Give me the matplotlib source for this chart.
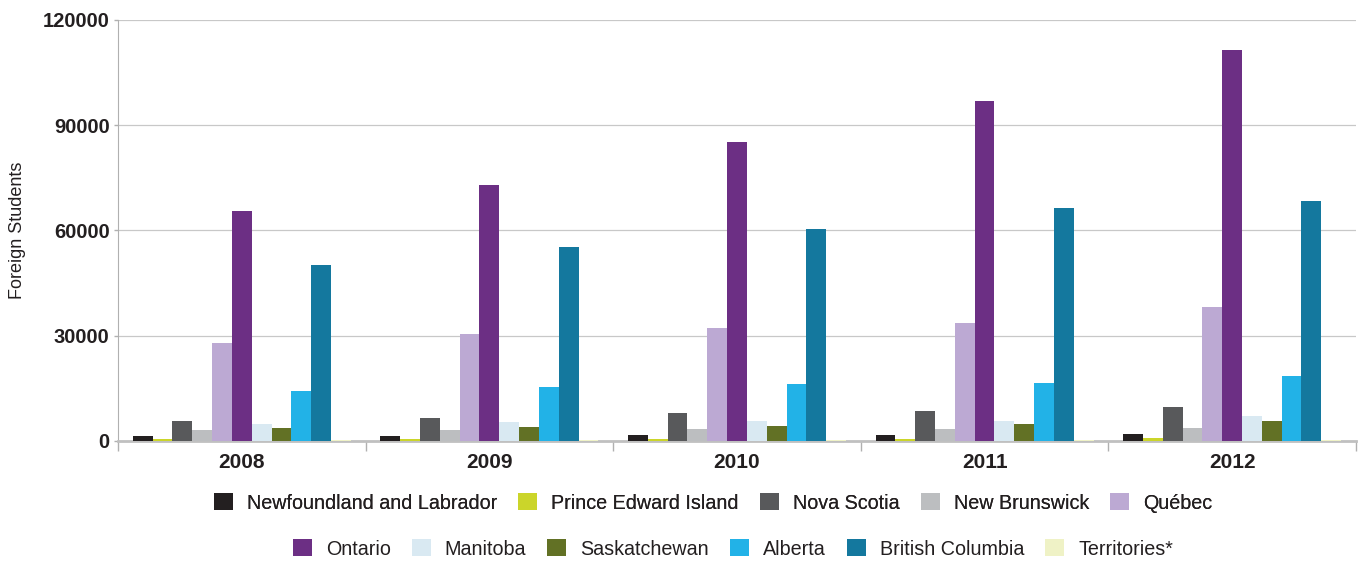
import matplotlib
matplotlib.use("Agg")
import matplotlib.pyplot as plt
import numpy as np
from matplotlib.patches import Patch

plt.rcParams['font.family'] = ['Liberation Sans', 'DejaVu Sans']

years = ["2008", "2009", "2010", "2011", "2012"]
provinces = ["Newfoundland and Labrador", "Prince Edward Island", "Nova Scotia",
             "New Brunswick", "Québec", "Ontario", "Manitoba", "Saskatchewan",
             "Alberta", "British Columbia", "Territories*"]

newfoundland = [1400, 1400, 1700, 1700, 2000]
pei = [600, 600, 600, 600, 900]
nova_scotia = [5700, 6600, 8000, 8600, 9800]
new_brunswick = [3100, 3150, 3400, 3400, 3700]
quebec = [28000, 30500, 32200, 33600, 38200]
ontario = [65600, 73000, 85200, 96900, 111400]
manitoba = [4850, 5400, 5700, 5700, 7100]
saskatchewan = [3700, 4000, 4300, 4850, 5700]
alberta = [14300, 15500, 16250, 16550, 18500]
british_columbia = [50200, 55300, 60400, 66400, 68400]
territories = [150, 150, 150, 150, 200]

series = [newfoundland, pei, nova_scotia, new_brunswick, quebec, ontario,
          manitoba, saskatchewan, alberta, british_columbia, territories]
colors = ["#231f20", "#cbd52a", "#58595b", "#bcbec0", "#bca9d3", "#6c2f84",
          "#d9e9f2", "#627125", "#22b2e7", "#14789e", "#eff2c6"]

fig = plt.figure(figsize=(13.61, 5.63), dpi=100)
ax = fig.add_axes([0.0867, 0.2167, 0.9096, 0.7478])

n = len(series)
w = 0.08
x = np.arange(len(years))
for i, (vals, c) in enumerate(zip(series, colors)):
    offs = (i - (n - 1) / 2) * w
    ax.bar(x + offs, vals, width=w, color=c, zorder=3, linewidth=0)

ax.set_xlim(-0.5, len(years) - 0.5)
ax.set_ylim(0, 120000)
ax.set_yticks([0, 30000, 60000, 90000, 120000])
ax.set_yticklabels(["0", "30000", "60000", "90000", "120000"],
                   fontsize=14.5, fontweight='bold', color="#231f20")
ax.yaxis.grid(True, color="#c8c8c8", linewidth=0.9, zorder=0)
ax.set_axisbelow(True)

ax.set_xticks(np.arange(-0.5, len(years)), minor=False)
ax.set_xticklabels([])
ax.set_xticks(x, minor=True)
ax.set_xticklabels(years, minor=True, fontsize=15, fontweight='bold', color="#231f20")
ax.tick_params(axis='x', which='major', length=7, color="#b0b0b0", width=1)
ax.tick_params(axis='x', which='minor', length=0, pad=9)
ax.tick_params(axis='y', length=3, color="#b0b0b0", width=1, pad=3)

for s in ["top", "right"]:
    ax.spines[s].set_visible(False)
ax.spines["left"].set_color("#b0b0b0")
ax.spines["bottom"].set_color("#c0c0c0")
ax.spines["bottom"].set_linewidth(2)

fig.text(18 / 1361, 1 - 230 / 563, "Foreign Students", rotation=90,
         ha='center', va='center', fontsize=13, color="#231f20")

handles = [Patch(facecolor=c, edgecolor='none') for c in colors]
common = dict(loc='center', frameon=False, fontsize=14.2, handlelength=0.96,
              handleheight=0.96, columnspacing=1.07, handletextpad=0.71,
              labelcolor="#231f20")
leg1 = fig.legend(handles[:5], provinces[:5], ncol=5,
                  bbox_to_anchor=(713 / 1361, 1 - 503 / 563), **common)
leg2 = fig.legend(handles[5:], provinces[5:], ncol=6,
                  bbox_to_anchor=(733 / 1361, 1 - 549 / 563), **common)
fig.add_artist(leg1)

fig.savefig("out.png", dpi=100)
